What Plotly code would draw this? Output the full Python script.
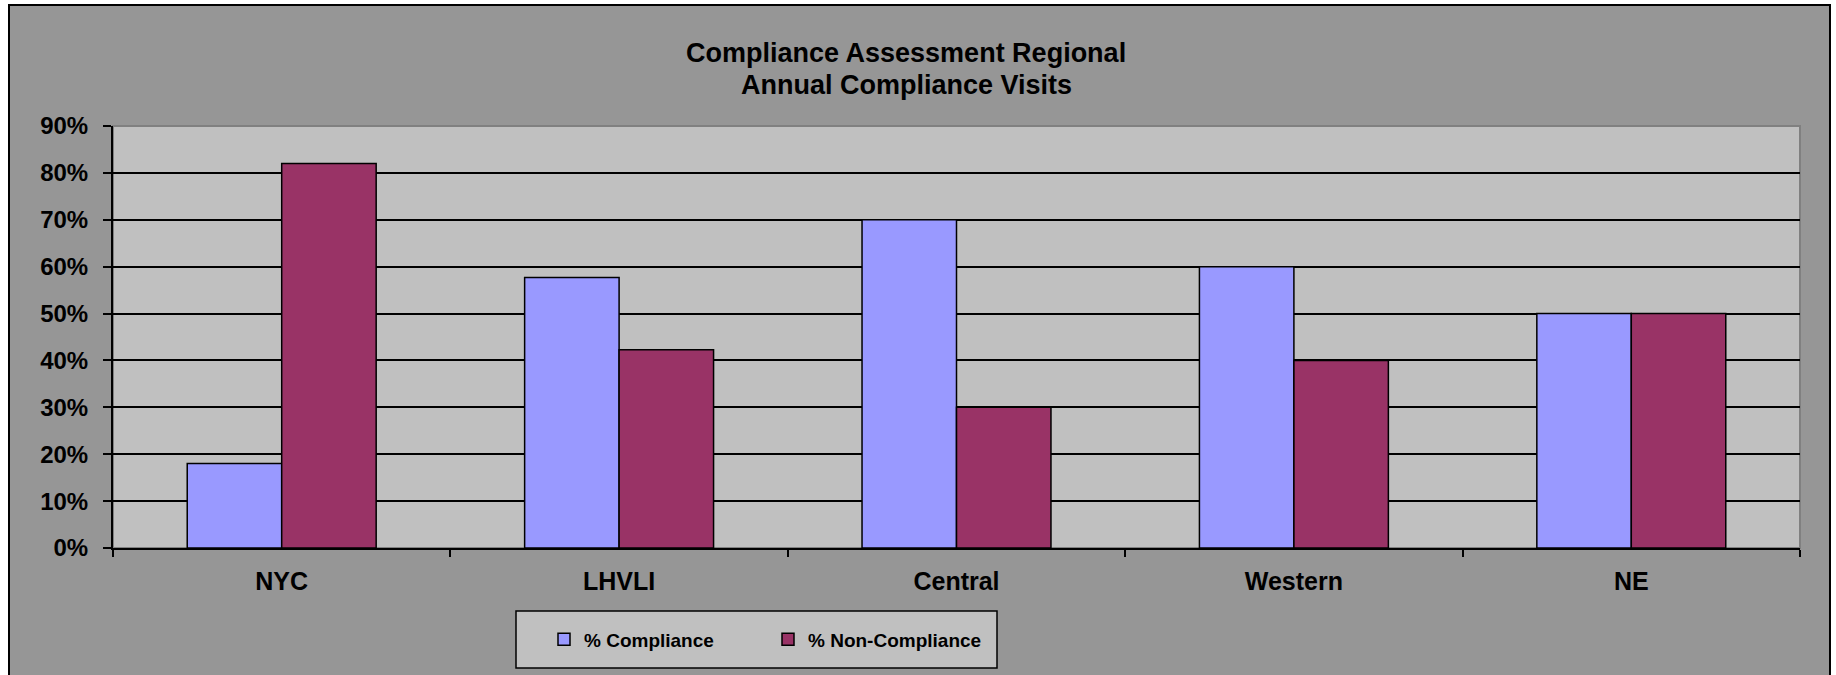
import plotly.graph_objects as go

# datos
regiones = ["NYC", "LHVLI", "Central", "Western", "NE"]
cumplimiento = [18, 57.7, 70, 60, 50]
incumplimiento = [82, 42.3, 30, 40, 50]
ticks_y = [0, 10, 20, 30, 40, 50, 60, 70, 80, 90]
etiquetas_y = [f"{v}%" for v in ticks_y]

W, H = 1836, 675
L, R, T, B = 113, 36, 126, 127
pw, ph = W - L - R, H - T - B


def px_x(p):
    return (p - L) / pw


def px_y(p):
    return (H - B - p) / ph


fuente = "Liberation Sans, Arial, sans-serif"

fig = go.Figure()
fig.add_trace(go.Bar(x=regiones, y=cumplimiento, name="% Compliance",
                     marker=dict(color="#9999ff", line=dict(color="black", width=1.5))))
fig.add_trace(go.Bar(x=regiones, y=incumplimiento, name="% Non-Compliance",
                     marker=dict(color="#993366", line=dict(color="black", width=1.5))))

shapes = [
    # marco exterior gris
    dict(type="rect", xref="paper", yref="paper", layer="below",
         x0=px_x(9), x1=px_x(1830), y0=px_y(690), y1=px_y(5),
         fillcolor="#969696", line=dict(color="black", width=2)),
    # fondo del area de trazado
    dict(type="rect", xref="paper", yref="paper", layer="below",
         x0=0, x1=1, y0=0, y1=1, fillcolor="#c0c0c0",
         line=dict(color="#808080", width=2)),
    # caja de la leyenda
    dict(type="rect", xref="paper", yref="paper",
         x0=px_x(516), x1=px_x(997), y0=px_y(668), y1=px_y(611),
         fillcolor="#c0c0c0", line=dict(color="black", width=1.5)),
]

titulo = ["Compliance Assessment Regional", "Annual Compliance Visits"]
anotaciones = [
    dict(text=f"<b>{t}</b>", xref="paper", yref="paper", x=px_x(906), y=px_y(yc),
         xanchor="center", yanchor="middle", showarrow=False,
         font=dict(size=27, family=fuente, color="black"))
    for t, yc in zip(titulo, [53, 85])
]

fig.update_layout(
    width=W, height=H,
    margin=dict(l=L, r=R, t=T, b=B),
    paper_bgcolor="white",
    plot_bgcolor="#c0c0c0",
    barmode="group",
    bargap=0.44,
    bargroupgap=0,
    shapes=shapes,
    annotations=anotaciones,
    font=dict(family=fuente, color="black"),
    xaxis=dict(showline=True, linecolor="black", linewidth=2,
               ticks="outside", ticklen=7, tickwidth=2, tickcolor="black",
               tickson="boundaries", ticklabelstandoff=10,
               tickfont=dict(size=25, family=fuente, weight="bold"),
               showgrid=False),
    yaxis=dict(range=[0, 90], tickvals=ticks_y, ticktext=etiquetas_y,
               showline=True, linecolor="black", linewidth=2,
               ticks="outside", ticklen=8, tickwidth=2, tickcolor="black",
               ticklabelstandoff=10,
               tickfont=dict(size=24, family=fuente, weight="bold"),
               showgrid=False, zeroline=False,
               minor=dict(tickvals=ticks_y[1:-1], showgrid=True,
                          gridcolor="black", gridwidth=1.5, ticks="")),
    showlegend=True,
    legend=dict(orientation="h", x=px_x(768), xanchor="center",
                y=px_y(639.5), yanchor="middle",
                bgcolor="rgba(0,0,0,0)", borderwidth=0,
                entrywidth=179, itemwidth=30,
                font=dict(size=19, family=fuente, weight="bold")),
)

fig.write_html("out.html", config={"displayModeBar": False},
               post_script="document.body.style.margin='0';")
